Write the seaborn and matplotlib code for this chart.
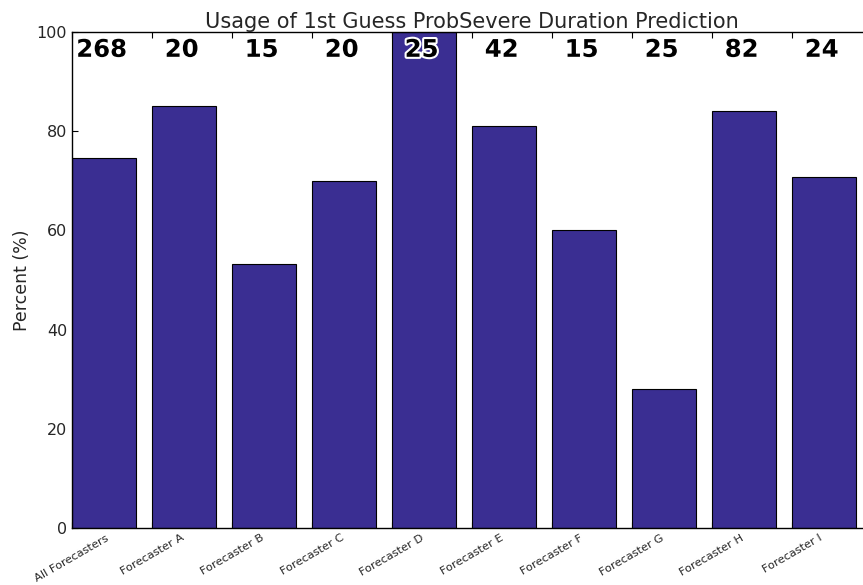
import matplotlib
matplotlib.use("Agg")
import matplotlib.pyplot as plt
import matplotlib.patheffects as pe
import seaborn as sns

forecasters = ["All Forecasters", "Forecaster A", "Forecaster B", "Forecaster C",
               "Forecaster D", "Forecaster E", "Forecaster F", "Forecaster G",
               "Forecaster H", "Forecaster I"]
percent_used = [74.6, 85.0, 53.3, 70.0, 100.0, 81.0, 60.0, 28.0, 84.1, 70.8]
n_cases = [268, 20, 15, 20, 25, 42, 15, 25, 82, 24]

sns.set_style("white")
plt.rcParams['font.family'] = ['DejaVu Sans']

fig = plt.figure(figsize=(8.63, 5.85), dpi=100)
ax = fig.add_axes([72 / 863, 57 / 585, 800 / 863, 496 / 585])

sns.barplot(x=forecasters, y=percent_used, color="#3a2e92", saturation=1,
            edgecolor="black", linewidth=0.8, width=0.8, ax=ax)

ax.set_xlim(-0.4, len(forecasters) - 0.4)
ax.set_ylim(0, 100)

# ticks sit on the left edge of each bar, like the old matplotlib bar(align='edge')
ax.set_xticks([i - 0.4 for i in range(len(forecasters))])
ax.set_xticklabels(forecasters, rotation=30, ha="center", fontsize=8.2)
ax.set_yticks(range(0, 101, 20))
ax.tick_params(axis="y", labelsize=11.5)
ax.tick_params(direction="in", top=True, right=True, length=4, width=0.8,
               bottom=True, left=True, color="black")

for s in ax.spines.values():
    s.set_visible(True)
    s.set_color("black")
    s.set_linewidth(1.0)

for i, n in enumerate(n_cases):
    ax.text(i - 0.03, 95, str(n), ha="center", va="baseline", fontsize=17.5,
            fontweight="bold", color="black",
            path_effects=[pe.withStroke(linewidth=3, foreground="white")])

ax.set_title("Usage of 1st Guess ProbSevere Duration Prediction", fontsize=15, pad=3)
ax.set_ylabel("Percent (%)", fontsize=12.5)
ax.set_xlabel("")

fig.savefig("out.png", dpi=100)
